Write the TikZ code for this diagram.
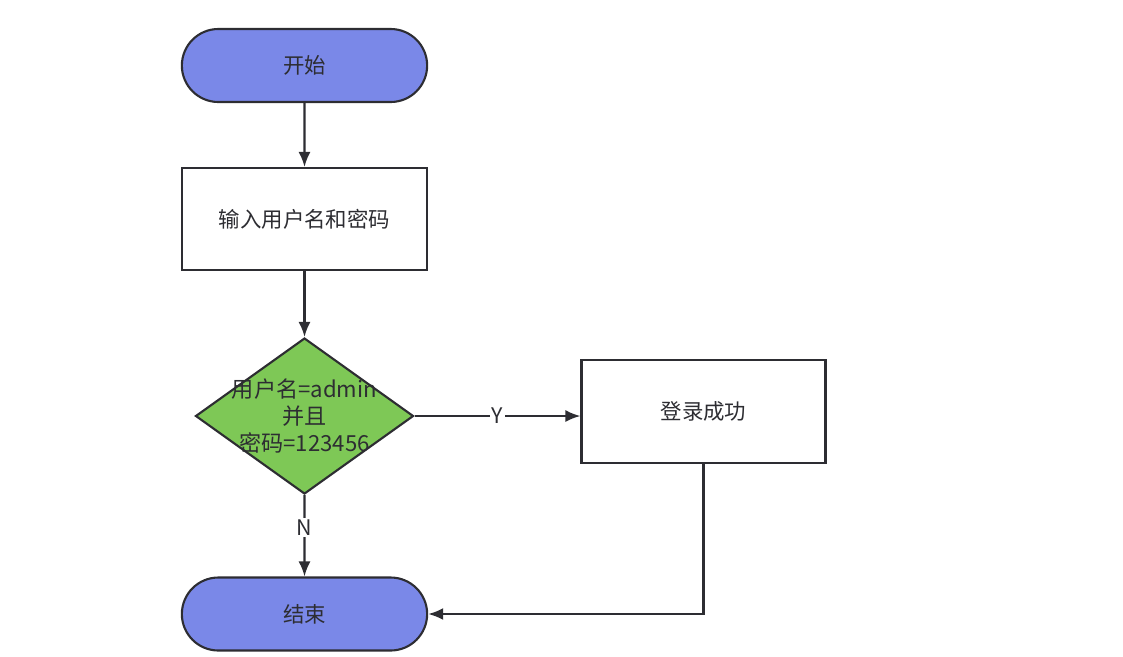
\documentclass[tikz,border=0pt]{standalone}
\usepackage{fontspec}
\setmainfont{Noto Sans CJK SC}
\usetikzlibrary{shapes.geometric, shapes.misc, positioning, arrows.meta}
\definecolor{termblue}{RGB}{122,136,232}
\definecolor{checkgreen}{RGB}{126,200,86}
\definecolor{linegray}{RGB}{45,45,50}

\begin{document}
\begin{tikzpicture}[node distance=3cm, on grid, auto,
    font=\fontsize{12.2}{14}\selectfont, text=linegray,
    startstop/.style={rounded rectangle, draw=linegray, line width=1.2pt, fill=termblue, minimum width=5.14cm, minimum height=1.46cm},
    process/.style={rectangle, draw=linegray, line width=1.2pt, minimum width=4.9cm, minimum height=2.04cm},
    decision/.style={diamond, draw=linegray, line width=1.2pt, fill=checkgreen, minimum width=4.36cm, minimum height=3.12cm, inner sep=0pt},
    flow/.style={-{Latex[length=3mm, width=2.4mm]}, line width=1.2pt, draw=linegray},
    tag/.style={auto=false, fill=white, inner sep=1pt}]
    \useasboundingbox (0,0) rectangle (22.46,-13.12);

    \node[startstop] (start) at (6.09,-1.31) {开始};
    \node[process] (input) [below=3.07cm of start] {输入用户名和密码};
    \node[decision, label={[align=center, font=\fontsize{12.6}{15.5}\selectfont]center:用户名=admin\\并且\\密码=123456}] (check) [below=3.94cm of input] {};
    \node[process, minimum width=4.88cm, minimum height=2.06cm] (success) [right=7.98cm of check, yshift=0.09cm] {登录成功};
    \node[startstop] (stop) [below=3.96cm of check] {结束};

    \draw[flow] (start) -- (input);
    \draw[flow] (input) -- (check);
    \draw[flow] (check.east) -- node[tag, pos=0.5] {Y} (success.west |- check.east);
    \draw[flow] (check) -- node[tag, pos=0.4] {N} (stop);
    \draw[flow] (success) |- (stop);
\end{tikzpicture}
\end{document}
